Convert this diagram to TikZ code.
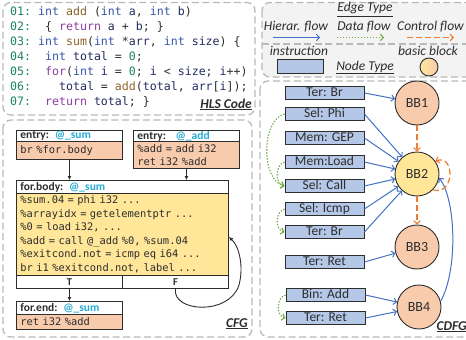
\documentclass[tikz,border=0pt]{standalone}
\usepackage{fontspec}
\setmainfont{Carlito}
\setmonofont{DejaVu Sans Mono}
\usetikzlibrary{arrows.meta,calc}

\definecolor{salmon}{RGB}{248,203,173}
\definecolor{yel}{RGB}{255,230,153}
\definecolor{instrc}{RGB}{180,199,231}
\definecolor{hierc}{RGB}{68,114,196}
\definecolor{datac}{RGB}{112,173,71}
\definecolor{ctrlc}{RGB}{237,125,49}
\definecolor{panelc}{RGB}{185,185,185}
\definecolor{legbg}{RGB}{243,243,243}
\definecolor{cyanc}{RGB}{40,170,210}
\definecolor{darkc}{RGB}{45,45,45}
\definecolor{lnc}{RGB}{30,130,100}
\definecolor{intc}{RGB}{55,85,175}
\definecolor{ctlc}{RGB}{140,60,160}
\definecolor{fnc}{RGB}{140,100,40}
\definecolor{idc}{RGB}{35,45,95}

\newcommand{\kwLn}[1]{\textcolor{lnc}{#1}}
\newcommand{\kwInt}[1]{\textcolor{intc}{#1}}
\newcommand{\kwCtl}[1]{\textcolor{ctlc}{#1}}
\newcommand{\kwFn}[1]{\textcolor{fnc}{#1}}
\newcommand{\kwNum}[1]{\textcolor{lnc}{#1}}
\newcommand{\kwId}[1]{\textcolor{idc}{#1}}

\newcommand{\hlsFont}{\fontsize{11.6}{15}\selectfont\ttfamily}
\newcommand{\cfgCode}{\fontsize{10.4}{13.5}\selectfont\ttfamily}
\newcommand{\cfgHead}{\fontsize{11.5}{13}\selectfont\bfseries}
\newcommand{\lblFont}{\fontsize{13.5}{15}\selectfont}

\tikzset{
  panel/.style={draw=panelc, line width=1.3pt, dash pattern=on 7pt off 3.5pt, rounded corners=8pt},
  codeline/.style={anchor=base west, inner sep=0pt, font=\hlsFont, text=darkc},
  blk/.style={draw=darkc, line width=0.9pt, anchor=north west, inner xsep=4pt, inner ysep=0pt, align=left, text=darkc},
  hdr/.style={blk, fill=white, font=\cfgHead},
  bodyS/.style={blk, fill=salmon, font=\cfgCode},
  bodyY/.style={blk, fill=yel, font=\cfgCode},
  tfbox/.style={draw=darkc, line width=0.9pt, fill=white, anchor=north west, inner sep=0pt, font=\fontsize{10.5}{12}\selectfont\bfseries, text=darkc},
  cfgarr/.style={draw=darkc, line width=0.9pt, -{Latex[length=4pt,width=4pt]}},
  lbl/.style={inner sep=0pt, font=\lblFont\itshape, text=darkc},
  blbl/.style={inner sep=0pt, font=\lblFont\bfseries\itshape, text=darkc},
  instr/.style={draw=darkc, line width=0.9pt, fill=instrc, minimum width=79pt, minimum height=13.5pt, inner sep=0pt, font=\lblFont, text height=8.8pt, text depth=1.5pt, text=darkc},
  bb/.style={circle, draw=darkc, line width=0.9pt, minimum size=44pt, inner sep=0pt, font=\fontsize{14}{16}\selectfont, text=darkc},
  hier/.style={draw=hierc, line width=1pt, -{Straight Barb[length=3pt,width=6.5pt]}},
  ctrl/.style={draw=ctrlc, line width=1.2pt, dash pattern=on 6pt off 3pt, -{Straight Barb[length=3pt,width=6.5pt]}},
  data/.style={draw=datac, line width=1.1pt, dash pattern=on 1.4pt off 1.6pt, -{Straight Barb[length=3pt,width=6.5pt]}},
}

\begin{document}
\begin{tikzpicture}[x=1pt,y=-1pt]
\useasboundingbox (0,0) rectangle (466,340);
\clip (0,0) rectangle (466,340);
\fill[white] (0,0) rectangle (466,340);

% panels
\draw[panel] (3,2.5) rectangle (255,115);
\draw[panel] (3,120) rectangle (252,337);
\draw[panel, fill=legbg] (262,2.5) rectangle (480,77);
\draw[panel] (262,44) -- (480,44);
\draw[panel] (260,81) rectangle (480,337);

% HLS code
\node[codeline] (l1) at (10,15) {\kwLn{01:} \kwInt{int} \kwFn{add} (\kwInt{int} \kwId{a}, \kwInt{int} \kwId{b})};
\node[codeline] (l2) at (10,30.1) {\kwLn{02:}~~\{ \kwCtl{return} \kwId{a} + \kwId{b}; \}};
\node[codeline] (l3) at (10,45.2) {\kwLn{03:} \kwInt{int} \kwFn{sum}(\kwInt{int} *\kwId{arr}, \kwInt{int} \kwId{size}) \{};
\node[codeline] (l4) at (10,60.3) {\kwLn{04:}~~\kwInt{int} \kwId{total} = \kwNum{0};};
\node[codeline] (l5) at (10,75.4) {\kwLn{05:}~~\kwCtl{for}(\kwInt{int} \kwId{i} = \kwNum{0}; \kwId{i} < \kwId{size}; \kwId{i}++)};
\node[codeline] (l6) at (10,90.5) {\kwLn{06:}~~~~\kwId{total} = \kwFn{add}(\kwId{total}, \kwId{arr}[\kwId{i}]);};
\node[codeline] (l7) at (10,105.6) {\kwLn{07:}~~\kwCtl{return} \kwId{total}; \}};
\node[blbl, anchor=base east] (hlsLbl) at (252,108) {\underline{HLS Code}};

% CFG
\node[hdr, text width=98pt, minimum height=11pt] (sumEH) at (16,130) {entry: \textcolor{cyanc}{@\_sum}};
\node[bodyS, text width=98pt, minimum height=18pt] (sumEB) at (16,141) {br \%for.body};
\node[hdr, text width=98pt, minimum height=11pt] (addEH) at (133,130) {entry:~ \textcolor{cyanc}{@\_add}};
\node[bodyS, text width=98pt, minimum height=27pt] (addEB) at (133,141) {\%add = add i32\\ret i32 \%add};
\node[hdr, text width=204pt, minimum height=13pt] (forH) at (16,180) {for.body: \textcolor{cyanc}{@\_sum}};
\node[bodyY, text width=204pt, minimum height=82pt] (forB) at (16,193) {\%sum.04 = phi i32 ...\\\%arrayidx = getelementptr ...\\\%0 = load i32, ...\\\%add = call @\_add \%0, \%sum.04\\\%exitcond.not = icmp eq i64 ...\\br i1 \%exitcond.not, label ...};
\node[tfbox, minimum width=106pt, minimum height=13pt] (tN) at (16,275) {T};
\node[tfbox, minimum width=106pt, minimum height=13pt] (fN) at (122,275) {F};
\node[hdr, text width=98pt, minimum height=13pt] (endH) at (16,301) {for.end: \textcolor{cyanc}{@\_sum}};
\node[bodyS, text width=98pt, minimum height=15pt] (endB) at (16,314) {ret i32 \%add};

\draw[cfgarr] (sumEB.south) -- (sumEB.south |- forH.north);
\draw[cfgarr] (addEB.south) -- (addEB.south |- forH.north);
\draw[cfgarr] (tN.south) -- (tN.south |- endH.north);
\draw[cfgarr] (fN.south) .. controls (172,312) and (229,316) .. (239,285) .. controls (244,266) and (239,246) .. ($(forB.north east)+(0,44)$);
\node[blbl, anchor=base east] (cfgLbl) at (248,327) {\underline{CFG}};

% legend
\node[lbl, anchor=base] (edgeT) at (365,12) {\underline{Edge Type}};
\node[lbl, anchor=base] (hierL) at (296,30) {Hierar. flow};
\node[lbl, anchor=base] (dataL) at (364,30) {Data flow};
\node[lbl, anchor=base west] (ctrlL) at (397,30) {Control flow};
\coordinate (hA) at (273,37.5); \coordinate (hB) at (320,37.5);
\coordinate (dA) at (337,37.5); \coordinate (dB) at (384,37.5);
\coordinate (cA) at (407,37.5); \coordinate (cB) at (454,37.5);
\draw[hier] (hA) -- (hB);
\draw[data] (dA) -- (dB);
\draw[ctrl] (cA) -- (cB);
\node[lbl, anchor=base] (instrL) at (299,55) {instruction};
\node[lbl, anchor=base] (bbL) at (428,55) {basic block};
\node[lbl, anchor=base] (nodeT) at (365,70) {\underline{Node Type}};
\node[instr, minimum width=46pt, minimum height=14pt] (legI) at (300,66) {};
\node[circle, draw=darkc, line width=0.9pt, minimum size=18pt, inner sep=0pt, left color=yel, right color=salmon] (legB) at (429,67) {};

% CDFG
\node[instr] (tb1) at (324.5,93) {Ter: Br};
\node[instr] (phi) at (324.5,114) {Sel: Phi};
\node[instr] (gep) at (324.5,138) {Mem: GEP};
\node[instr] (load) at (324.5,162) {Mem:Load};
\node[instr] (call) at (324.5,186) {Sel: Call};
\node[instr] (icmp) at (324.5,209) {Sel: Icmp};
\node[instr] (tb2) at (324.5,232) {Ter: Br};
\node[instr] (ret1) at (324.5,262) {Ter: Ret};
\node[instr] (badd) at (325.5,295) {Bin: Add};
\node[instr] (ret2) at (325.5,318) {Ter: Ret};

\node[bb, fill=salmon] (bb1) at (417,103) {BB1};
\node[bb, fill=yel] (bb2) at (417,174) {BB2};
\node[bb, fill=salmon] (bb3) at (417,247) {BB3};
\node[bb, fill=salmon] (bb4) at (419,307) {BB4};

\draw[hier] (tb1.east) -- (bb1);
\draw[hier] (phi.east) -- (bb2);
\draw[hier] (gep.east) -- (bb2);
\draw[hier] (load.east) -- (bb2);
\draw[hier] (call.east) -- (bb2);
\draw[hier] (icmp.east) -- (bb2);
\draw[hier] (tb2.east) -- (bb2);
\draw[hier] (ret1.east) -- (bb3);
\draw[hier] (badd.east) -- (bb4);
\draw[hier] (ret2.east) -- (bb4);
\draw[hier] (bb4.15) .. controls (458,270) and (456,200) .. (bb2.-10);

\draw[ctrl] (bb1) -- (bb2);
\draw[ctrl] (bb2) -- (bb3);
\draw[ctrl] (bb2.-45) .. controls (455,196) and (455,154) .. (bb2.35);

\draw[data] (phi.west) .. controls (261,120) and (261,180) .. (call.west);
\draw[data] (load.west) .. controls (276,164) and (274,183) .. (call.west);
\draw[data] (icmp.west) .. controls (276,211) and (274,229) .. (tb2.west);
\draw[data] (badd.west) .. controls (277,297) and (275,315) .. (ret2.west);

\node[blbl, anchor=base east] (cdfgLbl) at (467,330) {\underline{CDFG}};
\end{tikzpicture}
\end{document}
